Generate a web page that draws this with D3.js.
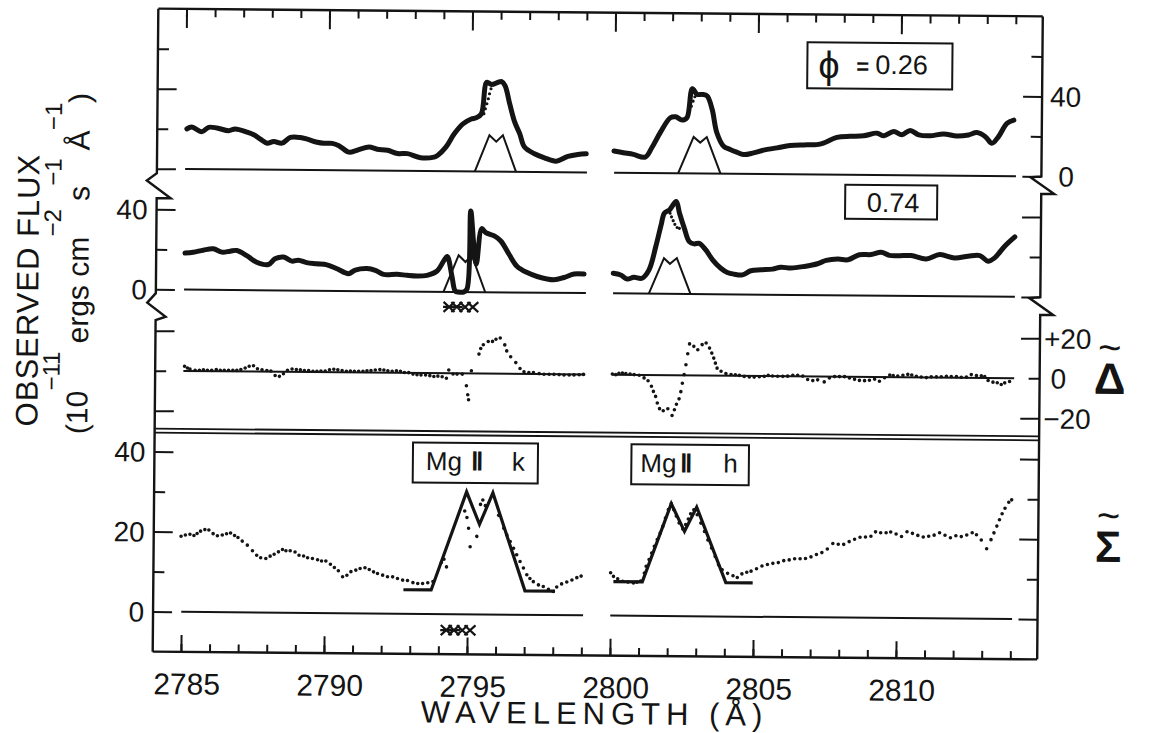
<!DOCTYPE html>
<meta charset="utf-8">
<script src="https://d3js.org/d3.v7.min.js"></script>
<style>
  body { margin: 0; background: #fff; }
  text { font-family: "Liberation Sans", Arial, sans-serif; fill: #141414; }
</style>
<div class="chart"></div>
<script>
  // ---- data (wavelength in Å, flux in 1e-11 cgs) ----
  const tickLabels = [2785, 2790, 2795, 2800, 2805, 2810];
  const halves = [[2785, 2799.05], [2800, 2814.05]];

  // phase 0.26
  const obsK026 = [[2785.05,20.0],[2785.22,21.0],[2785.57,18.6],[2785.81,20.9],[2786.10,20.6],[2786.51,19.3],[2786.74,20.2],[2787.15,18.7],[2787.39,17.4],[2787.62,15.2],[2787.86,13.2],[2788.09,14.1],[2788.38,13.3],[2788.67,16.2],[2789.02,16.2],[2789.26,15.4],[2789.61,13.9],[2789.84,13.4],[2790.13,13.4],[2790.37,12.3],[2790.72,9.1],[2791.01,10.1],[2791.42,11.7],[2791.71,10.7],[2792.07,10.2],[2792.42,8.6],[2792.77,8.6],[2793.23,6.6],[2793.70,7.0],[2793.82,7.8],[2794.11,12.0],[2794.40,18.7],[2794.70,23.7],[2794.99,26.2],[2795.16,26.8],[2795.34,28.8],[2795.52,44.6],[2795.69,43.5],[2795.92,44.7],[2796.04,45.0],[2796.16,43.0],[2796.33,33.9],[2796.51,24.8],[2796.69,19.0],[2796.86,12.4],[2797.21,9.1],[2797.56,7.1],[2797.97,5.5],[2798.38,7.9],[2798.73,8.9],[2799.02,9.3]];
  const obsH026 = [[2799.99,10.8],[2800.32,10.0],[2800.67,9.2],[2801.08,7.9],[2801.31,12.6],[2801.60,20.2],[2801.95,27.7],[2802.13,28.2],[2802.36,26.6],[2802.53,27.8],[2802.71,42.3],[2802.88,39.5],[2803.06,39.5],[2803.23,38.7],[2803.41,32.0],[2803.58,20.4],[2803.82,13.7],[2804.05,12.1],[2804.28,10.8],[2804.52,9.6],[2804.87,10.5],[2805.22,11.9],[2805.69,13.1],[2806.15,14.3],[2806.62,14.7],[2807.08,14.9],[2807.31,15.7],[2807.78,18.6],[2808.25,19.2],[2808.71,19.5],[2809.18,20.9],[2809.42,19.6],[2809.76,21.8],[2810.05,20.2],[2810.34,22.4],[2810.64,20.2],[2811.04,19.8],[2811.51,20.8],[2811.97,19.8],[2812.38,20.4],[2812.67,21.6],[2812.97,19.6],[2813.20,16.3],[2813.43,19.7],[2813.72,26.3],[2813.96,28.0]];
  const modelK026 = [[2795.13,0],[2795.63,18.2],[2795.87,15.0],[2796.10,18.2],[2796.57,0]];
  const modelH026 = [[2802.24,0],[2802.77,18.2],[2803.00,15.4],[2803.23,18.2],[2803.72,0]];
  const dotsK026 = [[2795.43,28.9],[2795.48,31.4],[2795.53,33.9],[2795.58,36.4],[2795.62,38.9],[2795.67,41.4]];
  const dotsH026 = [[2802.56,28.6],[2802.62,31.1],[2802.68,33.6],[2802.74,36.1],[2802.80,38.3]];

  // phase 0.74
  const obsK074 = [[2785.02,18.3],[2785.31,18.7],[2785.66,19.8],[2786.01,20.5],[2786.31,18.9],[2786.60,19.4],[2786.83,19.8],[2787.18,17.3],[2787.53,14.0],[2787.94,12.9],[2788.17,15.8],[2788.47,16.7],[2788.76,14.7],[2788.99,15.2],[2789.28,14.0],[2789.63,13.5],[2789.99,13.0],[2790.34,11.1],[2790.74,8.7],[2790.98,10.5],[2791.39,11.3],[2791.68,10.5],[2791.97,8.5],[2792.44,8.6],[2792.79,8.1],[2793.14,7.8],[2793.49,8.2],[2793.84,10.4],[2794.07,15.5],[2794.19,17.7],[2794.36,8.0],[2794.48,0.5],[2794.59,0],[2794.77,0],[2794.89,1.5],[2795.00,40.6],[2795.12,23],[2795.21,14],[2795.39,31.8],[2795.53,29.8],[2795.83,28.2],[2796.06,25.7],[2796.35,19.1],[2796.64,13.0],[2796.99,10.0],[2797.34,8.1],[2797.93,6.5],[2798.28,7.7],[2798.63,9.5],[2798.98,9.5]];
  const obsH074 = [[2800.00,10.0],[2800.26,9.2],[2800.49,7.2],[2800.72,8.1],[2801.01,7.7],[2801.25,11.9],[2801.48,23.6],[2801.66,34.4],[2801.77,40.3],[2801.95,42.0],[2802.18,46.2],[2802.30,40.3],[2802.47,32.9],[2802.65,26.2],[2802.82,25.1],[2803.00,25.4],[2803.23,22.1],[2803.47,17.2],[2803.76,13.0],[2803.99,10.9],[2804.23,10.1],[2804.52,9.8],[2804.81,11.9],[2805.16,12.4],[2805.57,12.8],[2805.86,13.8],[2806.21,13.4],[2806.68,14.3],[2807.14,15.7],[2807.44,17.4],[2807.85,18.1],[2808.20,17.8],[2808.60,20.4],[2809.01,20.5],[2809.36,21.7],[2809.65,20.2],[2810.00,20.1],[2810.41,20.2],[2810.94,18.6],[2811.41,20.8],[2811.93,19.2],[2812.40,20.1],[2812.81,20.5],[2813.10,17.7],[2813.33,19.4],[2813.68,25.3],[2814.03,30.0]];
  const modelK074 = [[2794.07,0],[2794.59,18.4],[2794.83,15.0],[2795.05,18.4],[2795.53,0]];
  const modelH074 = [[2801.25,0],[2801.77,17.8],[2801.98,15.0],[2802.22,17.9],[2802.71,0]];
  const dotsH074 = [[2801.97,40.3],[2802.02,38.5],[2802.08,36.6],[2802.14,34.8],[2802.22,33.2],[2802.30,32.8]];

  // difference spectrum (Delta)
  const deltaK = [[2785.04,2.3],[2785.14,1.5],[2785.23,0.9],[2785.41,0.4],[2785.56,0.4],[2785.70,0.7],[2785.84,0.4],[2785.99,0.4],[2786.15,0.8],[2786.29,0.5],[2786.43,0.5],[2786.58,0.5],[2786.73,0.5],[2786.87,0.5],[2787.01,0.9],[2787.16,1.7],[2787.30,2.6],[2787.45,2.9],[2787.59,1.4],[2787.75,0.9],[2787.92,0.6],[2788.06,0.3],[2788.21,-1.9],[2788.36,-2.3],[2788.50,-1.0],[2788.64,0.7],[2788.80,1.4],[2788.95,1.2],[2789.09,1.1],[2789.23,0.7],[2789.38,0.7],[2789.53,0.4],[2789.67,0.4],[2789.81,0.5],[2789.96,0.5],[2790.11,1.2],[2790.26,1.5],[2790.40,1.2],[2790.55,0.9],[2790.70,0.5],[2790.84,0.6],[2790.98,0.6],[2791.13,0.6],[2791.28,0.6],[2791.42,0.9],[2791.56,1.0],[2791.71,1.3],[2791.87,1.5],[2792.01,1.3],[2792.15,1.0],[2792.30,0.7],[2792.45,1.0],[2792.59,0.7],[2792.73,0.2],[2792.88,0.1],[2793.03,-0.6],[2793.17,-0.9],[2793.31,-1.0],[2793.47,-1.0],[2793.62,-1.3],[2793.76,-1.7],[2793.90,-1.5],[2794.05,-1.8],[2794.20,-2.5],[2794.28,1.6],[2794.43,-0.4],[2794.57,-0.4],[2794.75,-0.4],[2794.90,-6.2],[2794.95,-10.7],[2794.98,-13.2],[2795.07,1.3],[2795.33,9.7],[2795.39,12.5],[2795.48,14.4],[2795.65,16.0],[2795.80,16.1],[2795.92,17.2],[2796.07,17.8],[2796.23,14.4],[2796.30,11.4],[2796.44,8.5],[2796.62,5.6],[2796.77,2.7],[2796.91,1.0],[2797.08,0.7],[2797.24,0.7],[2797.44,0.2],[2797.61,-0.1],[2797.79,-0.1],[2797.96,-0.1],[2798.14,-0.2],[2798.31,-0.4],[2798.49,-0.4],[2798.66,-0.3],[2798.84,-0.2],[2798.99,0]];
  const deltaH = [[2800.00,0.3],[2800.12,0.0],[2800.23,0.7],[2800.35,0.9],[2800.47,0.6],[2800.62,0.4],[2800.76,0.1],[2800.94,-0.2],[2801.11,-1.5],[2801.25,-2.9],[2801.37,-5.6],[2801.44,-8.2],[2801.52,-10.7],[2801.58,-14.0],[2801.66,-16.8],[2801.79,-17.8],[2801.95,-16.8],[2802.10,-20.2],[2802.18,-17.3],[2802.25,-14.5],[2802.34,-11.8],[2802.40,-8.2],[2802.45,-4.0],[2802.51,0.3],[2802.57,5.3],[2802.63,10.8],[2802.69,15.7],[2802.84,14.5],[2802.98,12.8],[2803.13,15.4],[2803.27,16.2],[2803.39,13.7],[2803.47,11.2],[2803.54,8.7],[2803.60,6.2],[2803.66,3.7],[2803.80,2.2],[2803.97,1.0],[2804.15,0.6],[2804.30,0.5],[2804.44,0.2],[2804.61,-0.3],[2804.79,-0.6],[2804.96,-0.6],[2805.14,-0.4],[2805.31,-0.2],[2805.45,0.3],[2805.60,0],[2805.78,-0.1],[2805.96,-0.1],[2806.13,0],[2806.31,0.5],[2806.48,0.5],[2806.66,0.1],[2806.83,-1.6],[2807.01,-2.1],[2807.18,-1.7],[2807.41,-2.7],[2807.59,-0.7],[2807.77,0],[2807.94,0],[2808.12,0],[2808.29,-0.6],[2808.47,-1.3],[2808.64,-1.8],[2808.82,-1.9],[2808.99,-1.7],[2809.17,-1.1],[2809.34,-2.1],[2809.52,-0.4],[2809.70,1.0],[2809.82,0.8],[2809.98,0.5],[2810.16,1.0],[2810.33,1.4],[2810.47,1.1],[2810.63,0.5],[2810.80,0.2],[2810.98,-0.1],[2811.15,0.3],[2811.33,0.3],[2811.50,0.4],[2811.68,0.6],[2811.85,0.5],[2812.03,0.5],[2812.20,0.2],[2812.38,0.3],[2812.55,1.6],[2812.73,1.1],[2812.90,1.0],[2813.02,0.7],[2813.14,-1.3],[2813.31,-2.1],[2813.46,-2.4],[2813.60,-3.2],[2813.72,-2.4],[2813.89,-1.7]];

  // sum spectrum (Sigma)
  const sigmaK = [[2784.97,18.9],[2785.12,19.2],[2785.28,19.4],[2785.42,19.1],[2785.53,19.6],[2785.65,20.2],[2785.80,20.6],[2785.94,20.5],[2786.09,19.6],[2786.24,19.1],[2786.41,19.3],[2786.56,19.6],[2786.70,19.8],[2786.84,19.2],[2786.96,18.7],[2787.11,17.8],[2787.29,16.8],[2787.47,15.4],[2787.62,14.3],[2787.76,13.7],[2787.94,13.5],[2788.09,14.1],[2788.23,14.6],[2788.38,15.2],[2788.52,15.8],[2788.64,15.5],[2788.79,15.5],[2788.96,15.2],[2789.10,14.4],[2789.26,14.2],[2789.40,13.8],[2789.57,13.6],[2789.75,13.3],[2789.89,13.0],[2790.04,13.0],[2790.20,12.2],[2790.34,11.4],[2790.48,10.6],[2790.63,9.1],[2790.78,9.5],[2790.92,10.4],[2791.09,10.8],[2791.24,11.2],[2791.41,11.4],[2791.56,11.0],[2791.71,10.4],[2791.85,10.0],[2792.03,9.6],[2792.20,9.2],[2792.38,9.2],[2792.55,8.8],[2792.73,8.4],[2792.90,8.3],[2793.09,7.8],[2793.26,7.6],[2793.43,7.6],[2793.61,7.8],[2793.79,8.1],[2794.08,12.9],[2794.17,13.7],[2794.26,11.8],[2794.88,25.8],[2794.96,24.2],[2795.02,21.5],[2795.08,16.9],[2795.31,19.5],[2795.43,27.5],[2795.51,28.6],[2795.60,27.2],[2796.07,24.8],[2796.25,21.6],[2796.36,19.9],[2796.48,18.3],[2796.60,16.6],[2796.71,15.0],[2796.83,13.3],[2796.95,11.7],[2797.07,10.0],[2797.18,9.1],[2797.30,8.3],[2797.48,7.5],[2797.65,7.1],[2797.83,6.4],[2798.00,5.9],[2798.12,7.0],[2798.29,7.8],[2798.47,8.3],[2798.65,8.8],[2798.82,9.4],[2798.97,9.8]];
  const sigmaH = [[2800.00,10.7],[2800.10,9.8],[2800.25,9.2],[2800.42,8.6],[2800.61,8.4],[2800.80,8.2],[2800.92,8.4],[2801.05,8.7],[2801.18,10.7],[2801.24,12.4],[2801.34,14.1],[2801.43,15.7],[2801.52,17.4],[2801.62,19.1],[2801.72,20.7],[2801.81,22.4],[2801.90,24.5],[2802.00,26.6],[2802.10,28.1],[2802.19,26.6],[2802.28,25.0],[2802.38,23.3],[2802.51,21.8],[2802.61,22.9],[2802.70,24.3],[2802.78,25.6],[2802.89,26.6],[2803.01,25.4],[2803.14,23.3],[2803.27,21.2],[2803.39,19.1],[2803.52,17.1],[2803.65,15.0],[2803.77,12.9],[2803.90,11.7],[2804.09,10.8],[2804.28,10.2],[2804.43,9.8],[2804.59,10.7],[2804.76,11.1],[2804.91,11.4],[2805.10,12.0],[2805.29,12.7],[2805.48,13.1],[2805.67,13.4],[2805.86,13.6],[2806.05,14.1],[2806.24,14.3],[2806.43,14.6],[2806.62,14.6],[2806.81,14.7],[2807.00,15.1],[2807.19,15.7],[2807.38,16.2],[2807.57,17.1],[2807.76,18.5],[2807.95,18.3],[2808.14,18.3],[2808.33,19.0],[2808.52,19.6],[2808.71,20.1],[2808.90,20.2],[2809.09,20.4],[2809.25,21.5],[2809.43,21.3],[2809.62,21.3],[2809.78,21.5],[2809.97,21.0],[2810.16,20.4],[2810.35,21.6],[2810.54,21.2],[2810.73,20.7],[2810.92,20.3],[2811.11,20.5],[2811.30,20.8],[2811.49,21.4],[2811.68,20.8],[2811.87,20.2],[2812.06,20.7],[2812.25,20.5],[2812.44,20.9],[2812.63,21.5],[2812.78,21.0],[2812.95,19.7],[2813.14,17.5],[2813.29,19.8],[2813.39,21.5],[2813.49,23.2],[2813.58,24.8],[2813.67,26.3],[2813.77,27.7],[2813.90,29.2],[2814.00,29.8]];
  const sigmaModelK = [[2792.76,6.0],[2793.73,6.0],[2794.94,30.6],[2795.40,22.5],[2795.86,30.4],[2797.01,6.0],[2798.06,6.0]];
  const sigmaModelH = [[2800.10,8.5],[2801.11,8.5],[2802.10,28.1],[2802.57,21.2],[2802.99,27.3],[2804.03,8.5],[2804.97,8.5]];

  // interstellar line marks below the k line
  const markerLams = [2794.27, 2794.54, 2794.83, 2795.10];
  const markerKinds = ["star", "star", "x", "x"];

  // ---- layout ----
  const W = 1158, H = 733;
  const frame = {left: 155.5, right: 1040, top: 12.5, bottom: 655.5};

  const x = d3.scaleLinear().domain([2785, 2810]).range([183.7, 898.7]);
  const yTop = d3.scaleLinear().domain([0, 40]).range([172.5, 92.5]);
  const yMid = d3.scaleLinear().domain([0, 40]).range([293.2, 213.2]);
  const yDiff = d3.scaleLinear().domain([-20, 20]).range([414.5, 334.5]);
  const ySum = d3.scaleLinear().domain([0, 40]).range([615.4, 455.4]);

  const svg = d3.select('.chart').append('svg')
                .attr('width', W)
                .attr('height', H);
  svg.append('rect').attr('width', W).attr('height', H).attr('fill', '#fff');

  // the scan is slightly turned
  const g = svg.append('g').attr('transform', 'rotate(0.5,596,334)');
  const ink = '#141414';

  const lineFor = (ys, curve) => d3.line()
      .x(d => x(d[0]))
      .y(d => ys(d[1]))
      .curve(curve || d3.curveLinear);

  // frame: top and bottom
  g.append('path')
    .attr('d', `M${frame.left},${frame.top}H${frame.right}M${frame.left},${frame.bottom}H${frame.right}`)
    .attr('stroke', ink).attr('stroke-width', 2.4).attr('fill', 'none');

  // frame sides with axis breaks
  g.append('path')
    .attr('d', `M${frame.left},${frame.top}V177L145.5,184.5L169.5,202L${frame.left},202V297L147,306.5L165.5,320.5L${frame.left},324V${frame.bottom}`)
    .attr('stroke', ink).attr('stroke-width', 2.4).attr('fill', 'none');
  g.append('path')
    .attr('d', `M${frame.right},${frame.top}V172.5L1029,173.5L1053,190L${frame.right},190V293.3L1029,294.3L1053,311L${frame.right},311V${frame.bottom}`)
    .attr('stroke', ink).attr('stroke-width', 2.4).attr('fill', 'none');

  // double rule between Delta and Sigma
  g.append('path')
    .attr('d', `M${frame.left},432.5H${frame.right}M${frame.left},436.5H${frame.right}`)
    .attr('stroke', ink).attr('stroke-width', 1.8);

  function styleAxis(sel) {
    sel.select('.domain').remove();
    sel.selectAll('line').attr('stroke', ink).attr('stroke-width', 2);
    sel.selectAll('text').remove();
  }

  // wavelength ticks, top and bottom
  const minorLams = d3.range(2785, 2815);
  g.append('g').attr('transform', `translate(0,${frame.top})`)
    .call(d3.axisBottom(x).tickValues(minorLams).tickSize(8)).call(styleAxis);
  g.append('g').attr('transform', `translate(0,${frame.top})`)
    .call(d3.axisBottom(x).tickValues(tickLabels).tickSize(19)).call(styleAxis);
  g.append('g').attr('transform', `translate(0,${frame.bottom})`)
    .call(d3.axisTop(x).tickValues(minorLams).tickSize(8)).call(styleAxis);
  g.append('g').attr('transform', `translate(0,${frame.bottom})`)
    .call(d3.axisTop(x).tickValues(tickLabels).tickSize(17)).call(styleAxis);

  g.selectAll('.xlab').data(tickLabels).join('text')
    .attr('class', 'xlab')
    .attr('x', d => x(d) + 6).attr('y', 698)
    .attr('text-anchor', 'middle')
    .attr('font-size', 30)
    .text(d => d);

  // flux ticks on both sides of every panel
  const panels = [
    {y: yTop, major: [0, 40], minor: [20, 60]},
    {y: yMid, major: [0, 40], minor: [20]},
    {y: yDiff, major: [-20, 20], minor: [0]},
    {y: ySum, major: [0, 20, 40], minor: [10, 30]}
  ];
  panels.forEach(p => {
    [[p.major, 19], [p.minor, 11]].forEach(([vals, size]) => {
      g.append('g').attr('transform', `translate(${frame.left},0)`)
        .call(d3.axisRight(p.y).tickValues(vals).tickSize(size)).call(styleAxis);
      g.append('g').attr('transform', `translate(${frame.right},0)`)
        .call(d3.axisLeft(p.y).tickValues(vals).tickSize(size)).call(styleAxis);
    });
  });

  // flux tick labels
  const leftLabels = [[yMid, 40, '40'], [yMid, 0, '0'], [ySum, 40, '40'], [ySum, 20, '20'], [ySum, 0, '0']];
  leftLabels.forEach(([ys, v, t]) => {
    g.append('text').attr('x', frame.left - 9).attr('y', ys(v)).attr('dy', '0.36em')
      .attr('text-anchor', 'end').attr('font-size', 28).text(t);
  });
  const rightLabels = [[yTop, 40, '40', 8], [yTop, 0, '0', 17], [yDiff, 20, '+20', 4], [yDiff, 0, '0', 11], [yDiff, -20, '\u221220', 4]];
  rightLabels.forEach(([ys, v, t, dx]) => {
    g.append('text').attr('x', frame.right + dx).attr('y', ys(v)).attr('dy', '0.36em')
      .attr('font-size', 28).text(t);
  });

  // zero lines of every panel, both halves
  [yTop, yMid, yDiff, ySum].forEach(ys => {
    halves.forEach(h => {
      g.append('path').attr('d', lineFor(ys)([[h[0], 0], [h[1], 0]]))
        .attr('stroke', ink).attr('stroke-width', 2).attr('fill', 'none');
    });
  });

  // observed spectra (thick), line profiles (thin), corrected peak (dotted)
  const thick = (data, ys) => g.append('path')
      .attr('d', lineFor(ys, d3.curveCatmullRom.alpha(0.5))(data))
      .attr('fill', 'none').attr('stroke', ink).attr('stroke-width', 5)
      .attr('stroke-linejoin', 'round').attr('stroke-linecap', 'round');
  const thin = (data, ys, w) => g.append('path')
      .attr('d', lineFor(ys)(data))
      .attr('fill', 'none').attr('stroke', ink).attr('stroke-width', w || 2)
      .attr('stroke-linejoin', 'miter');
  const dots = (data, ys, r) => g.append('g').selectAll('circle').data(data).join('circle')
      .attr('cx', d => x(d[0])).attr('cy', d => ys(d[1])).attr('r', r).attr('fill', ink);

  thick(obsK026, yTop); thick(obsH026, yTop);
  thin(modelK026, yTop); thin(modelH026, yTop);
  dots(dotsK026, yTop, 1.6); dots(dotsH026, yTop, 1.6);

  thick(obsK074, yMid); thick(obsH074, yMid);
  thin(modelK074, yMid); thin(modelH074, yMid);
  dots(dotsH074, yMid, 1.6);

  dots(deltaK, yDiff, 1.8); dots(deltaH, yDiff, 1.8);

  thin(sigmaModelK, ySum, 3.2); thin(sigmaModelH, ySum, 3.2);
  dots(sigmaK, ySum, 1.8); dots(sigmaH, ySum, 1.8);

  // interstellar marks
  function marks(yBase) {
    markerLams.forEach((l, i) => {
      const cx = x(l);
      let d = `M${cx - 5.5},${yBase - 5}L${cx + 5.5},${yBase + 5}M${cx - 5.5},${yBase + 5}L${cx + 5.5},${yBase - 5}`;
      if (markerKinds[i] === 'star') d += `M${cx - 6},${yBase}L${cx + 6},${yBase}`;
      g.append('path').attr('d', d).attr('stroke', ink).attr('stroke-width', 2.2).attr('fill', 'none');
    });
  }
  marks(yMid(0) + 15);
  marks(ySum(0) + 16);

  // boxed annotations
  function box(x0, y0, w, h) {
    g.append('rect').attr('x', x0).attr('y', y0).attr('width', w).attr('height', h)
      .attr('fill', '#fff').attr('stroke', ink).attr('stroke-width', 2);
  }
  box(805, 40.5, 145, 46);
  g.append('text').attr('x', 816).attr('y', 76).attr('font-family', 'DejaVu Sans').attr('font-size', 38).text('\u03D5');
  g.append('text').attr('x', 854).attr('y', 71.5).attr('font-family', 'DejaVu Sans').attr('font-weight', 'bold').attr('font-size', 22).text('=');
  g.append('text').attr('x', 873).attr('y', 71.5).attr('font-family', 'DejaVu Sans').attr('font-size', 27).text('0.26');

  box(844, 182.5, 92, 34);
  g.append('text').attr('x', 892).attr('y', 209.5).attr('text-anchor', 'middle')
    .attr('font-family', 'DejaVu Sans').attr('font-size', 27).text('0.74');

  function mgBox(x0, w, offs, letter) {
    box(x0, 444, w, 40);
    g.append('text').attr('x', x0 + offs[0]).attr('y', 471.5).attr('font-size', 26).text('Mg');
    g.append('text').attr('x', x0 + offs[1]).attr('y', 471.5)
      .attr('font-family', 'DejaVu Serif').attr('font-weight', 'bold')
      .attr('font-size', 25).text('\u2161');
    g.append('text').attr('x', x0 + offs[2]).attr('y', 471.5).attr('font-size', 26).text(letter);
  }
  mgBox(414, 125, [13, 58, 99], 'k');
  mgBox(632.5, 117.5, [9, 49, 92], 'h');

  // Delta and Sigma labels
  [['\u0394', 1110, 373.5], ['\u03A3', 1110, 541.5]].forEach(([t, cx, cy]) => {
    g.append('text').attr('x', cx).attr('y', cy + 16).attr('text-anchor', 'middle')
      .attr('font-family', 'DejaVu Sans').attr('font-weight', 'bold').attr('font-size', 44).text(t);
    g.append('text').attr('x', cx).attr('y', cy - 17).attr('text-anchor', 'middle')
      .attr('font-family', 'DejaVu Sans').attr('font-size', 40).text('~');
  });

  // axis titles
  g.append('text').attr('x', 598).attr('y', 724).attr('text-anchor', 'middle')
    .attr('font-size', 31).attr('letter-spacing', 6).text('WAVELENGTH (\u00C5)');

  g.append('text').attr('transform', 'translate(38,295) rotate(-90)')
    .attr('text-anchor', 'middle').attr('font-size', 31).attr('letter-spacing', 1)
    .text('OBSERVED FLUX');

  const unit = g.append('text').attr('transform', 'translate(88,268) rotate(-90)')
    .attr('text-anchor', 'middle').attr('font-size', 30);
  const parts = [['(10', '\u221211'], [' ergs cm', '\u22122'], [' s', '\u22121'], [' \u00C5', '\u22121'], [')', null]];
  parts.forEach(([main, sup], i) => {
    const t = unit.append('tspan').text(main);
    if (i > 0) t.attr('dy', 28);
    if (sup) unit.append('tspan').attr('dy', -28).attr('font-size', 24).text(sup);
  });
</script>
